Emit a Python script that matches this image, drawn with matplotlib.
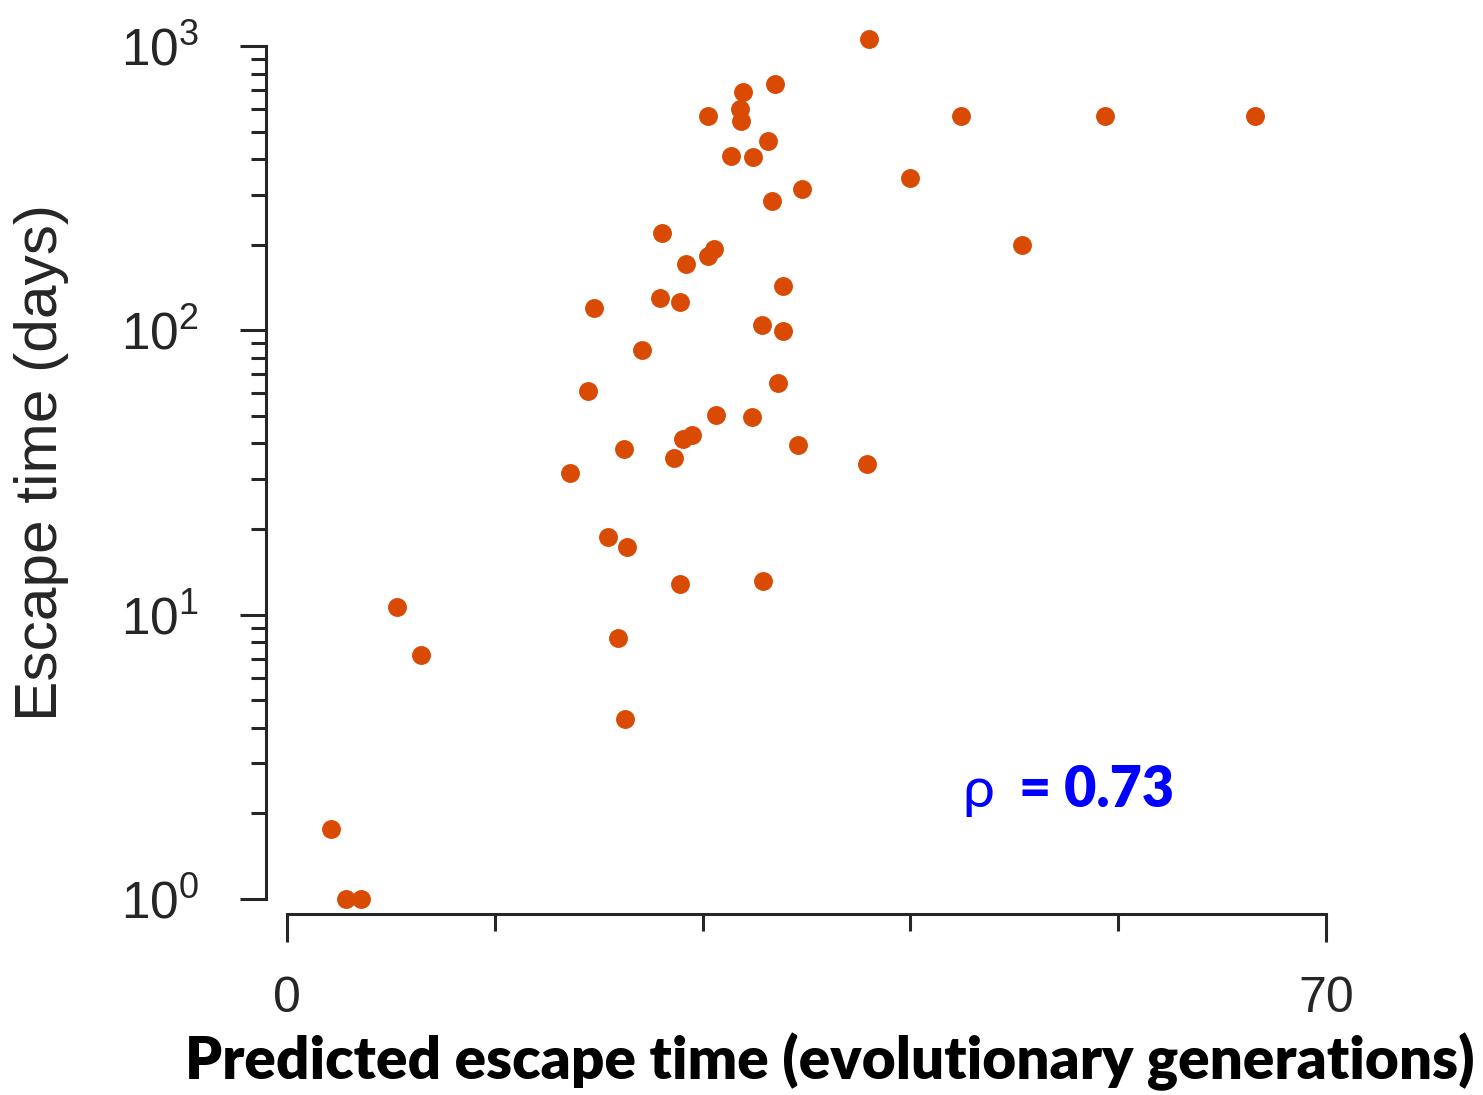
import numpy as np
import matplotlib
matplotlib.use('Agg')
import matplotlib.pyplot as plt
from matplotlib.ticker import FixedLocator, LogLocator, NullFormatter

plt.rcParams['font.family'] = ['Liberation Sans', 'DejaVu Sans']
plt.rcParams['mathtext.fontset'] = 'custom'
plt.rcParams['mathtext.rm'] = 'Liberation Sans'
plt.rcParams['mathtext.it'] = 'Liberation Sans:italic'

# predicted escape time (generations) vs. observed escape time (days)
predicted = [2.96, 3.98, 4.99, 7.41, 9.03, 19.1, 20.3, 20.7, 21.6, 22.3,
             22.7, 22.9, 22.8, 23.9, 25.1, 25.3, 26.1, 26.5, 26.5, 26.7,
             26.9, 27.3, 28.4, 28.4, 28.8, 28.9, 29.9, 30.5, 30.6, 30.7,
             31.3, 31.4, 32.0, 32.1, 32.4, 32.7, 32.9, 33.1, 33.4, 33.4,
             34.4, 34.7, 39.1, 39.2, 42.0, 45.4, 49.5, 55.1, 65.2]
escape_days = [1.76, 1.0, 1.0, 10.6, 7.2, 31.5, 61, 120, 18.8, 8.3,
               38.3, 17.3, 4.3, 85, 130, 220, 35.6, 126, 12.8, 41.5,
               171, 43, 568, 183, 193, 50.5, 410, 600, 545, 690,
               49.5, 408, 104, 13.1, 462, 284, 738, 65.5, 99.5, 143,
               39.4, 313, 33.9, 1060, 344, 568, 200, 568, 568]
rho = 0.73

fig = plt.figure(figsize=(14.83, 10.95), dpi=100)
ax = fig.add_axes([0.1935, 0.1790, 0.7006, 0.7790])

ax.scatter(predicted, escape_days, s=185, color='#D94A03', linewidths=0,
           clip_on=False, zorder=3)

ax.set_yscale('log')
ax.set_xlim(0, 70)
ax.set_ylim(1, 1000)

for side in ['top', 'right']:
    ax.spines[side].set_visible(False)
ax.spines['left'].set_position(('outward', 15))
ax.spines['bottom'].set_position(('outward', 10.8))
for side in ['left', 'bottom']:
    ax.spines[side].set_linewidth(2.2)
    ax.spines[side].set_color('#262626')

ax.xaxis.set_major_locator(FixedLocator([0, 70]))
ax.xaxis.set_minor_locator(FixedLocator([14, 28, 42, 56]))
ax.yaxis.set_major_locator(LogLocator(base=10, numticks=10))
ax.yaxis.set_minor_locator(LogLocator(base=10, subs=np.arange(2, 10), numticks=10))
ax.yaxis.set_minor_formatter(NullFormatter())

ax.tick_params(axis='x', which='major', length=20, width=2.2, color='#262626',
               labelsize=36, pad=25, labelcolor='#262626')
ax.tick_params(axis='x', which='minor', length=12, width=2.2, color='#262626')
ax.tick_params(axis='y', which='major', length=18.5, width=2.2, color='#262626',
               labelsize=37, pad=30, labelcolor='#262626')
ax.tick_params(axis='y', which='minor', length=10.8, width=2.2, color='#262626')

fig.text(0.028, 0.578, 'Escape time (days)', rotation=90, ha='center', va='center',
         fontsize=43.5, color='#262626')
fig.text(0.5597, 0.0146, 'Predicted escape time (evolutionary generations)',
         ha='center', va='baseline', fontsize=42, fontweight='heavy',
         family=['Lato', 'DejaVu Sans'], color='black')

ax.text(0.650, 0.108, '\u03c1', transform=ax.transAxes, fontsize=41,
        color='blue', ha='left', va='baseline', family=['Lato', 'DejaVu Sans'])
ax.text(0.705, 0.108, '= %.2f' % rho, transform=ax.transAxes, fontsize=40,
        color='blue', fontweight='heavy', ha='left', va='baseline',
        family=['Lato', 'DejaVu Sans'])

fig.savefig('out.png', dpi=100)
